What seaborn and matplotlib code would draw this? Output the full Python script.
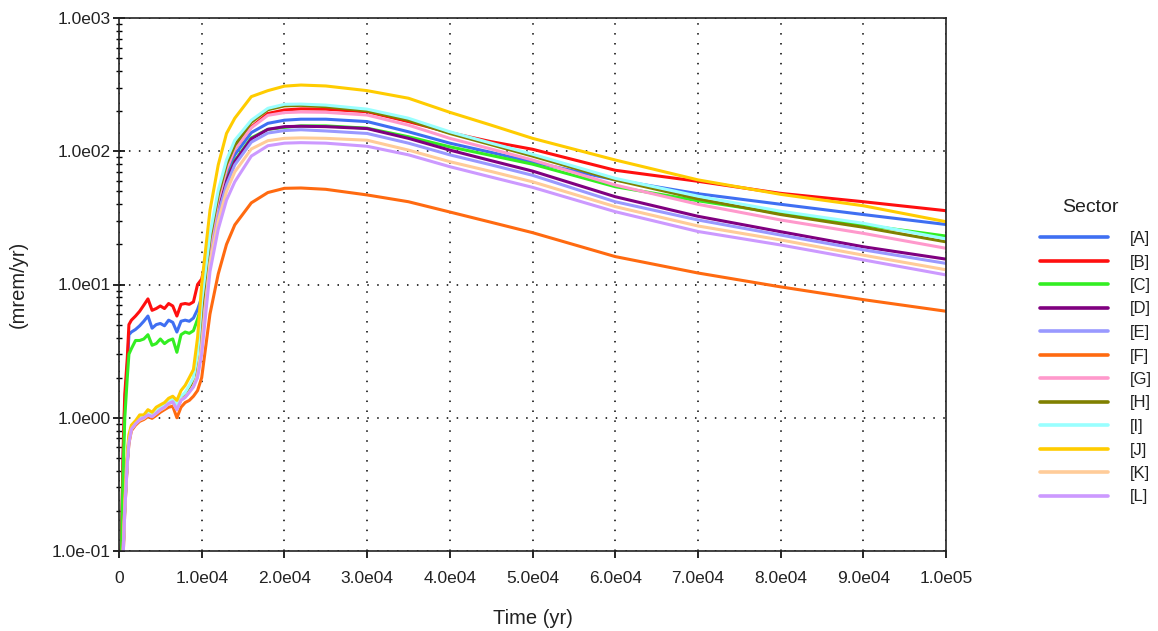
import numpy as np
import pandas as pd
import matplotlib
matplotlib.use("Agg")
import matplotlib.pyplot as plt
import seaborn as sns

# ---------------- data ----------------
time_yr = [0, 300, 500, 700, 1000, 1200, 1500, 2000, 2500, 3000, 3500, 4000, 4500,
           5000, 5500, 6000, 6500, 7000, 7500, 8000, 8500, 9000, 9500, 10000,
           11000, 12000, 13000, 14000, 16000, 18000, 20000, 22000, 25000, 30000,
           35000, 40000, 45000, 50000, 60000, 70000, 80000, 90000, 100000]

sectors = ["[A]", "[B]", "[C]", "[D]", "[E]", "[F]", "[G]", "[H]", "[I]", "[J]", "[K]", "[L]"]

dose_A = [0.05, 0.12, 0.5, 1.3, 2.4, 4.2, 4.4, 4.6, 4.9, 5.3, 5.8, 4.7, 5.0,
          5.1, 4.9, 5.4, 5.2, 4.4, 5.3, 5.4, 5.3, 5.6, 6.5, 8.0,
          19, 40, 67, 94, 138, 162, 171, 174, 174, 167,
          140, 115, 98, 83, 61, 48, 40, 33.5, 28.2]
dose_B = [0.05, 0.12, 0.6, 1.5, 2.8, 5.0, 5.4, 5.8, 6.3, 7.0, 7.8, 6.4, 6.6,
          6.9, 6.6, 7.2, 6.9, 5.8, 7.1, 7.2, 7.1, 7.4, 10.0, 11.0,
          21, 44, 74, 104, 152, 192, 204, 208, 207, 198,
          167, 138, 118, 103.5, 72, 59.5, 48.3, 41.8, 35.8]
dose_C = [0.05, 0.1, 0.4, 1.0, 2.0, 3.0, 3.3, 3.8, 3.8, 3.9, 4.2, 3.5, 3.6,
          3.9, 3.6, 3.8, 3.9, 3.1, 4.2, 4.4, 4.3, 4.5, 5.5, 7.0,
          18, 37, 61, 85, 126, 146, 151, 155, 155, 149,
          128.5, 108, 93, 80, 54.2, 42.5, 34.2, 28, 23.1]
dose_D = [0.02, 0.04, 0.1, 0.22, 0.48, 0.68, 0.84, 0.91, 0.98, 1.0, 1.07, 1.04, 1.1,
          1.16, 1.21, 1.29, 1.33, 1.17, 1.38, 1.45, 1.6, 1.78, 2.4, 4.5,
          17.5, 36, 60, 83.5, 124, 146, 153, 154, 153, 148,
          125, 102, 85, 71, 45.6, 32.5, 24.9, 19.2, 15.5]
dose_E = [0.02, 0.04, 0.1, 0.21, 0.47, 0.67, 0.83, 0.9, 0.97, 1.0, 1.06, 1.03, 1.09,
          1.15, 1.2, 1.28, 1.32, 1.16, 1.37, 1.44, 1.58, 1.75, 2.3, 4.2,
          16.5, 34, 56, 79, 117, 137, 143, 145, 142, 136,
          115, 94, 79, 66, 41.8, 30.5, 23.5, 18.2, 14.4]
dose_F = [0.02, 0.04, 0.09, 0.2, 0.45, 0.64, 0.8, 0.88, 0.94, 0.97, 1.02, 0.99, 1.04,
          1.1, 1.15, 1.2, 1.22, 1.0, 1.2, 1.3, 1.35, 1.45, 1.6, 2.0,
          6, 12, 20, 28, 41, 49, 52.7, 53, 51.8, 47,
          41.8, 35, 29.3, 24.5, 16.2, 12.2, 9.6, 7.7, 6.3]
dose_G = [0.02, 0.04, 0.1, 0.22, 0.48, 0.69, 0.85, 0.92, 0.99, 1.01, 1.08, 1.05, 1.11,
          1.17, 1.22, 1.3, 1.34, 1.19, 1.41, 1.49, 1.66, 1.86, 2.7, 6.0,
          20, 43, 73, 104, 150, 186, 195, 197, 196, 187,
          157, 125, 104, 86, 55.8, 40, 30.5, 24.2, 18.7]
dose_H = [0.02, 0.04, 0.1, 0.22, 0.48, 0.7, 0.85, 0.92, 1.0, 1.01, 1.08, 1.05, 1.12,
          1.18, 1.22, 1.3, 1.35, 1.2, 1.42, 1.5, 1.7, 1.9, 2.8, 6.5,
          22, 47, 80, 111, 165, 205, 219, 221, 216, 201,
          171, 136, 112, 92, 60.9, 44, 33.5, 26.9, 20.9]
dose_I = [0.02, 0.04, 0.1, 0.22, 0.5, 0.72, 0.86, 0.93, 1.0, 1.02, 1.1, 1.07, 1.15,
          1.2, 1.25, 1.33, 1.38, 1.25, 1.45, 1.55, 1.75, 2.0, 3.0, 7.5,
          24, 51, 86, 121, 171, 210, 225, 226, 222, 207,
          177, 140, 115, 95, 62.6, 46, 35.5, 28.8, 22.0]
dose_J = [0.02, 0.04, 0.1, 0.24, 0.55, 0.75, 0.88, 0.95, 1.05, 1.05, 1.15, 1.1, 1.2,
          1.25, 1.3, 1.4, 1.45, 1.35, 1.6, 1.75, 2.0, 2.3, 4.0, 10.0,
          36, 79, 136, 177, 257, 285, 308, 314, 309, 285,
          250, 196, 157, 125, 86, 61, 47.5, 39, 29.6]
dose_K = [0.02, 0.04, 0.09, 0.2, 0.46, 0.66, 0.82, 0.9, 0.96, 0.99, 1.05, 1.02, 1.08,
          1.14, 1.19, 1.27, 1.31, 1.15, 1.36, 1.43, 1.56, 1.72, 2.1, 3.5,
          14.5, 30, 50, 70, 104, 120, 125, 126, 125, 121,
          102, 83.5, 70.5, 59, 38.4, 27.5, 21.6, 16.6, 12.9]
dose_L = [0.02, 0.04, 0.09, 0.2, 0.45, 0.65, 0.82, 0.9, 0.97, 1.0, 1.05, 1.02, 1.08,
          1.15, 1.2, 1.28, 1.32, 1.15, 1.35, 1.42, 1.55, 1.7, 2.0, 3.0,
          12.5, 26, 43, 59, 92, 110, 115, 116, 115, 109,
          94, 76.6, 64, 53.6, 35.2, 25, 19.8, 15.3, 11.8]

sector_colors = ["#3f6ff2", "#ff0f0f", "#33ee22", "#800080", "#9999ff", "#ff6a10",
                 "#ff99cc", "#808000", "#99ffff", "#ffcc00", "#ffcc99", "#cc99ff"]

x_ticks = [0, 10000, 20000, 30000, 40000, 50000, 60000, 70000, 80000, 90000, 100000]
x_tick_labels = ["0", "1.0e04", "2.0e04", "3.0e04", "4.0e04", "5.0e04", "6.0e04",
                 "7.0e04", "8.0e04", "9.0e04", "1.0e05"]
y_ticks = [0.1, 1, 10, 100, 1000]
y_tick_labels = ["1.0e-01", "1.0e00", "1.0e01", "1.0e02", "1.0e03"]

series = [dose_A, dose_B, dose_C, dose_D, dose_E, dose_F,
          dose_G, dose_H, dose_I, dose_J, dose_K, dose_L]

frames = []
for name, vals in zip(sectors, series):
    frames.append(pd.DataFrame({"Time": time_yr, "Dose": vals, "Sector": name}))
df = pd.concat(frames, ignore_index=True)

# ---------------- plot ----------------
sns.set_theme(style="white")
plt.rcParams["font.family"] = ["Liberation Sans", "DejaVu Sans"]

W, H = 1158, 631
fig = plt.figure(figsize=(W / 100, H / 100), dpi=100)
ax = fig.add_axes([119 / W, 1 - 551 / H, (946 - 119) / W, (551 - 18) / H])

sns.lineplot(data=df, x="Time", y="Dose", hue="Sector", hue_order=sectors,
             palette=dict(zip(sectors, sector_colors)), linewidth=2.2,
             ax=ax, legend=True, estimator=None, sort=False)

ax.set_yscale("log")
ax.set_xlim(0, 100000)
ax.set_ylim(0.1, 1000)

ax.set_xticks(x_ticks)
ax.set_xticklabels(x_tick_labels)
ax.set_yticks(y_ticks)
ax.set_yticklabels(y_tick_labels)
ax.yaxis.set_minor_locator(matplotlib.ticker.LogLocator(base=10, subs=np.arange(2, 10)))
ax.yaxis.set_minor_formatter(matplotlib.ticker.NullFormatter())

ax.tick_params(axis="x", which="major", direction="out", length=5, width=1.2,
               color="black", labelsize=12.5, labelcolor="#222222", pad=9.5, bottom=True)
ax.tick_params(axis="y", which="major", direction="inout", length=8, width=1.2,
               color="black", labelsize=12.5, labelcolor="#222222", pad=2, left=True)
ax.tick_params(axis="y", which="minor", direction="inout", length=5, width=1.0,
               color="black", left=True)

ax.grid(True, which="major", color="black", linestyle=(0, (1, 5.5)), linewidth=1.1)
ax.set_axisbelow(True)

for side in ["left", "bottom", "top", "right"]:
    ax.spines[side].set_visible(True)
    ax.spines[side].set_color("#222222")
    ax.spines[side].set_linewidth(1.2)

ax.set_xlabel("Time (yr)", fontsize=14.5, color="#222222")
ax.set_ylabel("(mrem/yr)", fontsize=14.5, color="#222222")
ax.xaxis.set_label_coords(0.5, -0.1096)
ax.yaxis.set_label_coords(-0.1105, 0.5)

handles, labels = ax.get_legend_handles_labels()
leg = ax.legend(handles, labels, frameon=False,
                loc="upper left", bbox_to_anchor=(1040 / W, 1 - 231 / H),
                bbox_transform=fig.transFigure, borderaxespad=0, borderpad=0,
                handlelength=4.1, handletextpad=1.3, labelspacing=0.51,
                fontsize=12)
for line in leg.get_lines():
    line.set_linewidth(2.6)
for t in leg.get_texts():
    t.set_color("#222222")
fig.text(1090 / W, 1 - 207 / H, "Sector", ha="center", va="center",
         fontsize=14, color="#222222")

fig.savefig("out.png", dpi=100)
